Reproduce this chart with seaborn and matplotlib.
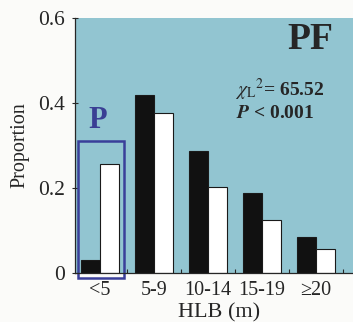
import matplotlib
matplotlib.use("Agg")
import matplotlib.pyplot as plt
import seaborn as sns
import pandas as pd
from matplotlib.patches import Rectangle
from matplotlib.ticker import FixedLocator

categories = ["<5", "5-9", "10-14", "15-19", "≥20"]
series_black = [0.03, 0.42, 0.288, 0.188, 0.085]
series_white = [0.256, 0.376, 0.202, 0.125, 0.057]
series_names = ["Used", "Available"]
y_ticks = [0, 0.2, 0.4, 0.6]
y_tick_labels = ["0", "0.2", "0.4", "0.6"]

df = pd.DataFrame({
    "HLB": categories * 2,
    "Proportion": series_black + series_white,
    "Group": [series_names[0]] * len(categories) + [series_names[1]] * len(categories),
})

sns.set_style("ticks")
plt.rcParams["font.family"] = ["Liberation Serif", "DejaVu Serif"]
plt.rcParams["mathtext.fontset"] = "stix"

fig = plt.figure(figsize=(3.53, 3.22), dpi=100)
ax = fig.add_axes([75 / 353, 49 / 322, 278 / 353, 255 / 322])
ax.set_facecolor("#92c5d1")

sns.barplot(data=df, x="HLB", y="Proportion", hue="Group", order=categories,
            hue_order=series_names, palette=["#111111", "#ffffff"], width=0.7,
            edgecolor="#1a1a1a", linewidth=0.8, legend=False, ax=ax)

ax.set_xlim(-0.463, 4.685)
ax.set_ylim(0, 0.6)
ax.set_yticks(y_ticks)
ax.set_yticklabels(y_tick_labels, fontsize=15.5)
ax.xaxis.set_minor_locator(FixedLocator([0.5, 1.5, 2.5, 3.5, 4.5]))
ax.tick_params(axis="x", which="major", labelsize=14.5, length=0, pad=6)
ax.tick_params(axis="x", which="minor", direction="in", length=3, width=0.8)
ax.tick_params(axis="y", direction="inout", length=5, width=0.8, pad=5)
ax.set_xlabel("HLB (m)", fontsize=16)
ax.xaxis.set_label_coords(0.52, -0.157)
ax.xaxis.label.set_va("center")
ax.set_ylabel("Proportion", fontsize=14.5, labelpad=6)

for s in ["top", "right"]:
    ax.spines[s].set_visible(False)
ax.spines["left"].set_linewidth(0.9)
ax.spines["bottom"].set_linewidth(0.9)

ax.text(0.928, 0.914, "PF", transform=ax.transAxes, ha="right", va="center",
        fontsize=27, fontweight="bold")
ax.text(0.575, 0.716, r"$\chi_{\rm L}$$^{2}$= 65.52", transform=ax.transAxes,
        ha="left", va="center", fontsize=14, fontweight="bold")
ax.text(0.58, 0.625, r"$\mathbfit{P}$ < 0.001", transform=ax.transAxes,
        ha="left", va="center", fontsize=14, fontweight="bold")
ax.text(0.083, 0.598, "P", transform=ax.transAxes, ha="center", va="center",
        fontsize=22, fontweight="bold", color="#3a3f94")
ax.add_patch(Rectangle((-0.407, -0.012), 0.851, 0.322, fill=False,
                       edgecolor="#3a3f9a", linewidth=1.8, clip_on=False))

fig.savefig("out.png", dpi=100, facecolor="#fbfbf9")
